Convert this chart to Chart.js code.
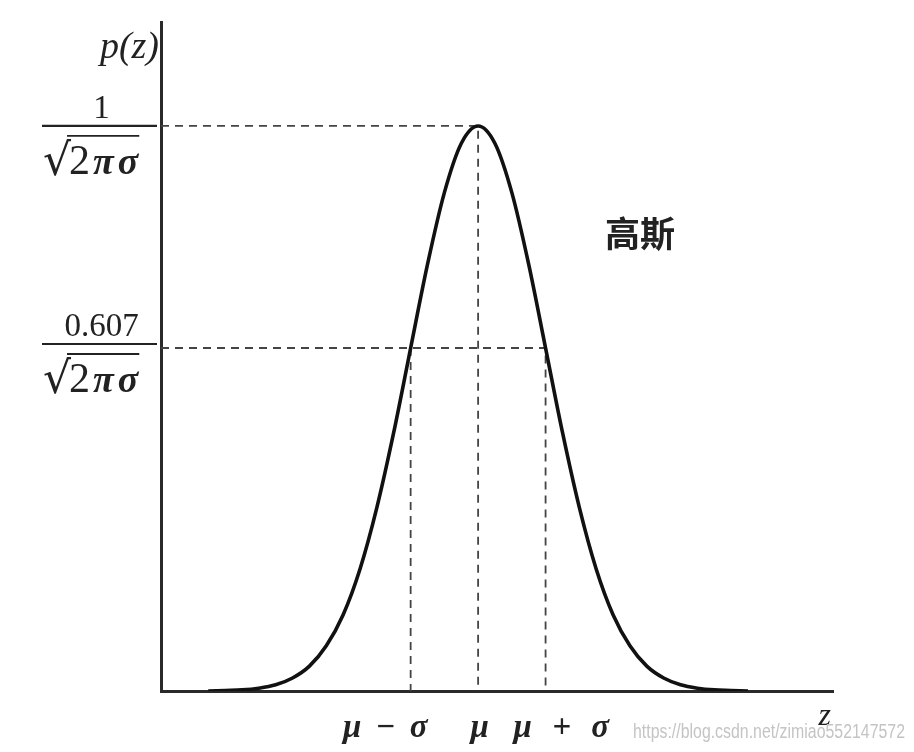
<!DOCTYPE html>
<html lang="zh">
<head>
<meta charset="UTF-8">
<title>高斯</title>
<script src="https://cdn.jsdelivr.net/npm/chart.js"></script>
<style>
  body { margin: 0; background: #fff; }
  #wrap { width: 914px; height: 752px; }
</style>
</head>
<body>
<div id="wrap"><canvas id="gauss" width="914" height="752"></canvas></div>
<script>
// z in units of sigma from mu, p(z) relative to the peak 1/(sqrt(2pi)sigma)
const zValues = [-4, -3.75, -3.5, -3.25, -3, -2.75, -2.5, -2.25, -2, -1.75, -1.5, -1.25, -1, -0.75, -0.5, -0.25,
                 0, 0.25, 0.5, 0.75, 1, 1.25, 1.5, 1.75, 2, 2.25, 2.5, 2.75, 3, 3.25, 3.5, 3.75, 4];
const pValues = [0, 0.001, 0.002, 0.005, 0.011, 0.023, 0.044, 0.08, 0.135, 0.216, 0.325, 0.458, 0.607, 0.755, 0.882, 0.969,
                 1, 0.969, 0.882, 0.755, 0.607, 0.458, 0.325, 0.216, 0.135, 0.08, 0.044, 0.023, 0.011, 0.005, 0.002, 0.001, 0];
const xTicks = [-1, 0, 1];
const xTickLabels = ['μ − σ', 'μ', 'μ + σ'];
const guideLevels = [1, 0.607];

const xMin = -4.7, xMax = 5.26, yMax = 1.184;

const curve = zValues.map((z, i) => ({ x: z, y: pValues[i] }));

const dashStyle = {
  borderColor: '#444',
  borderWidth: 1.8,
  borderDash: [8, 6],
  pointRadius: 0,
  fill: false,
  tension: 0
};
const guides = [
  { data: [{ x: xMin, y: guideLevels[0] }, { x: 0, y: guideLevels[0] }, { x: 0, y: 0 }] },
  { data: [{ x: xMin, y: guideLevels[1] }, { x: xTicks[2], y: guideLevels[1] }, { x: xTicks[2], y: 0 }] },
  { data: [{ x: xTicks[0], y: guideLevels[1] }, { x: xTicks[0], y: 0 }] }
].map(d => Object.assign({}, dashStyle, d));

function drawFraction(ctx, num, right, barY, left) {
  ctx.save();
  ctx.fillStyle = '#222';
  ctx.strokeStyle = '#222';
  ctx.lineWidth = 2.2;
  ctx.beginPath();
  ctx.moveTo(left, barY);
  ctx.lineTo(right, barY);
  ctx.stroke();
  const mid = (left + right) / 2;
  ctx.font = '33px "Liberation Serif", serif';
  ctx.textAlign = 'center';
  ctx.textBaseline = 'alphabetic';
  ctx.fillText(num, mid + 2, barY - 8);
  // denominator sqrt(2 pi sigma)
  ctx.font = '44px "DejaVu Serif", serif';
  ctx.textAlign = 'left';
  const rootX = left + 1;
  ctx.fillText('√', rootX, barY + 49);
  const rw = ctx.measureText('√').width;
  ctx.font = '42px "Liberation Serif", serif';
  ctx.fillText('2', rootX + rw - 2, barY + 48);
  const w2 = ctx.measureText('2').width;
  ctx.font = 'bold italic 38px "Liberation Serif", serif';
  ctx.letterSpacing = '4px';
  ctx.fillText('πσ', rootX + rw + w2 + 1, barY + 48);
  const wps = ctx.measureText('πσ').width;
  ctx.letterSpacing = '0px';
  ctx.lineWidth = 1.8;
  ctx.beginPath();
  ctx.moveTo(rootX + rw - 4, barY + 10);
  ctx.lineTo(rootX + rw + w2 + wps - 2, barY + 10);
  ctx.stroke();
  ctx.restore();
}

const labelsPlugin = {
  id: 'labels',
  afterDraw(chart) {
    const ctx = chart.ctx;
    const xs = chart.scales.x, ys = chart.scales.y;
    const area = chart.chartArea;
    ctx.save();
    ctx.fillStyle = '#222';
    // y-axis title
    ctx.font = 'italic 38px "Liberation Serif", serif';
    ctx.textAlign = 'right';
    ctx.textBaseline = 'alphabetic';
    ctx.fillText('p(z)', area.left - 2, 58);
    // x-axis tick labels
    ctx.font = 'bold italic 33px "Liberation Serif", serif';
    ctx.letterSpacing = '3px';
    const base = area.bottom + 46;
    ctx.textAlign = 'right';
    ctx.fillText(xTickLabels[0], xs.getPixelForValue(xTicks[0]) + 20, base);
    ctx.textAlign = 'center';
    ctx.fillText(xTickLabels[1], xs.getPixelForValue(xTicks[1]) + 3, base);
    ctx.textAlign = 'left';
    ctx.letterSpacing = '6px';
    ctx.fillText(xTickLabels[2], xs.getPixelForValue(xTicks[2]) - 32, base);
    ctx.letterSpacing = '0px';
    ctx.textAlign = 'right';
    ctx.font = 'italic 32px "Liberation Serif", serif';
    ctx.fillText('z', area.right - 2, area.bottom + 34);
    // fractions on the y axis
    drawFraction(ctx, '1', area.left - 4, ys.getPixelForValue(guideLevels[0]), 42);
    drawFraction(ctx, '0.607', area.left - 4, ys.getPixelForValue(guideLevels[1]) - 4, 42);
    // curve label
    ctx.font = 'bold 35px "Noto Sans CJK SC", sans-serif';
    ctx.textAlign = 'left';
    ctx.fillText('高斯', 605, 247);
    // watermark
    ctx.font = '20px "Liberation Sans", Arial, sans-serif';
    ctx.fillStyle = '#c4c4c4';
    ctx.textAlign = 'left';
    const wm = 'https://blog.csdn.net/zimiao552147572';
    const k = 272 / ctx.measureText(wm).width;
    ctx.translate(633, 738);
    ctx.scale(k, 1);
    ctx.fillText(wm, 0, 0);
    ctx.restore();
  }
};

new Chart(document.getElementById('gauss'), {
  type: 'line',
  data: {
    datasets: [
      {
        data: curve,
        borderColor: '#111',
        borderWidth: 3.6,
        pointRadius: 0,
        fill: false,
        cubicInterpolationMode: 'monotone'
      },
      ...guides
    ]
  },
  options: {
    responsive: false,
    animation: false,
    layout: { padding: { left: 161, right: 81, top: 22, bottom: 61 } },
    plugins: { legend: { display: false }, tooltip: { enabled: false } },
    scales: {
      x: {
        type: 'linear',
        min: xMin,
        max: xMax,
        grid: { display: false },
        ticks: { display: false },
        border: { display: true, color: '#2a2a2a', width: 3 },
        afterFit: s => { s.height = 0; }
      },
      y: {
        min: 0,
        max: yMax,
        grid: { display: false },
        ticks: { display: false },
        border: { display: true, color: '#2a2a2a', width: 3 },
        afterFit: s => { s.width = 0; }
      }
    }
  },
  plugins: [labelsPlugin]
});
</script>
</body>
</html>
